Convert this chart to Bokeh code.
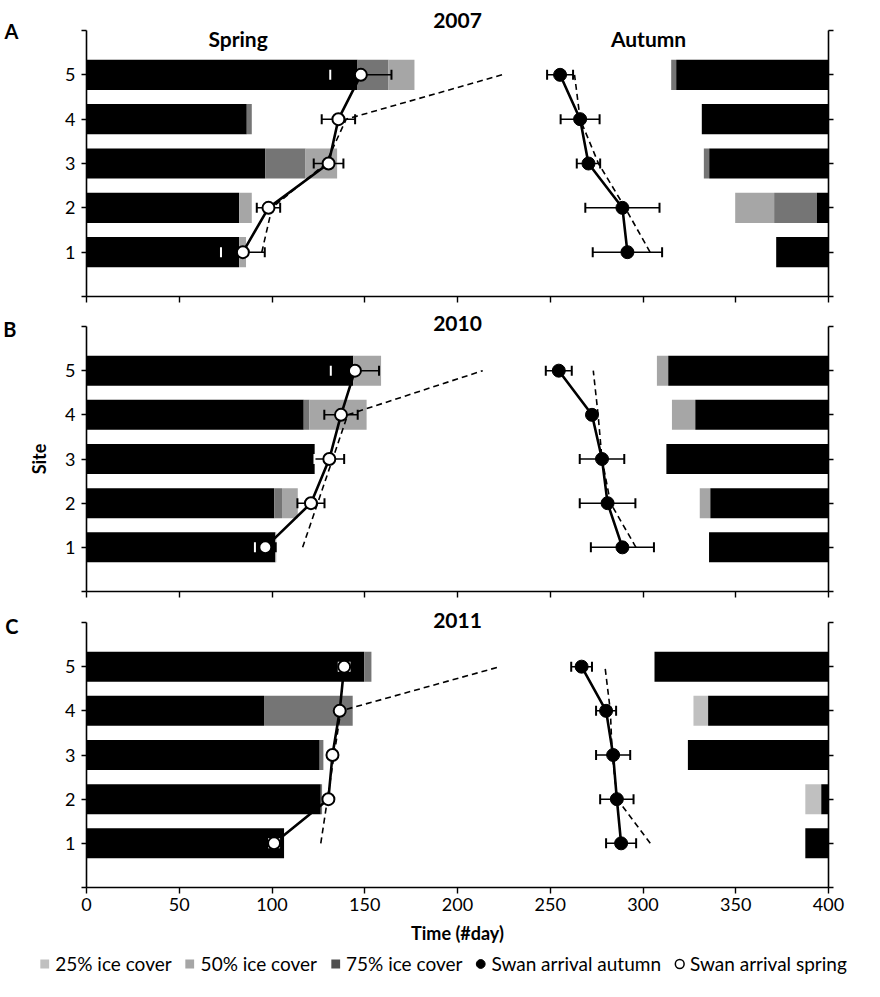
import math
from bokeh.plotting import figure
from bokeh.models import (Range1d, FixedTicker, LinearAxis, Label, Legend,
                          LegendItem)
from bokeh.layouts import column, row
from bokeh.embed import file_html
from bokeh.resources import INLINE

# ---------------- data ----------------
sites = [1, 2, 3, 4, 5]
site_ticks = [0, 1, 2, 3, 4, 5, 6]
day_ticks = [0, 50, 100, 150, 200, 250, 300, 350, 400]
day_end = 400
legend_labels = ["25% ice cover", "50% ice cover", "75% ice cover",
                 "Swan arrival autumn", "Swan arrival spring"]

# 2007 – spring: day at which each ice-cover level ends (100 %, 75 %, 50 %, 25 %)
sp100_2007 = [82.3, 82.3, 96.3, 86.4, 146.1]
sp75_2007 = [82.3, 82.3, 118.1, 89.1, 162.8]
sp50_2007 = [86.0, 89.1, 135.1, 89.1, 176.8]
sp25_2007 = [86.0, 89.1, 135.1, 89.1, 176.8]
# autumn: day at which each ice-cover level starts (25 %, 50 %, 75 %, 100 %)
au25_2007 = [371.8, 349.7, 332.8, 331.7, 315.2]
au50_2007 = [371.8, 349.7, 332.8, 331.7, 315.2]
au75_2007 = [371.8, 370.7, 332.8, 331.7, 315.2]
au100_2007 = [371.8, 393.7, 335.7, 331.7, 317.9]
spr_mean_2007 = [84.3, 98.1, 130.5, 135.8, 147.9]
spr_err_2007 = [11.8, 6.3, 8.0, 9.0, 16.5]
aut_mean_2007 = [291.6, 288.9, 270.6, 266.1, 255.3]
aut_err_2007 = [18.7, 20.0, 6.3, 10.5, 7.0]
spr_pred_2007 = [94.5, 100.0, 129.0, 140.0, 224.0]
aut_pred_2007 = [303.8, 290.4, 276.0, 266.1, 263.1]

# 2010
sp100_2010 = [101.8, 101.2, 123.0, 117.1, 143.8]
sp75_2010 = [101.8, 105.4, 123.0, 120.1, 143.8]
sp50_2010 = [102.3, 113.9, 123.0, 151.0, 158.8]
sp25_2010 = [102.3, 113.9, 123.0, 151.0, 158.8]
au25_2010 = [335.6, 330.6, 312.6, 315.6, 307.5]
au50_2010 = [335.6, 330.6, 312.6, 315.6, 307.5]
au75_2010 = [335.6, 336.3, 312.6, 328.2, 313.6]
au100_2010 = [335.6, 336.3, 312.6, 328.2, 313.6]
spr_mean_2010 = [96.4, 121.0, 130.9, 137.2, 144.7]
spr_err_2010 = [5.6, 7.3, 8.0, 9.0, 13.0]
aut_mean_2010 = [288.9, 280.9, 277.9, 272.5, 254.6]
aut_err_2010 = [17.0, 15.0, 12.0, 1.0, 7.0]
spr_pred_2010 = [116.5, 124.6, 132.7, 140.8, 213.6]
aut_pred_2010 = [296.2, 282.5, 277.9, 275.8, 273.2]

# 2011
sp100_2011 = [106.5, 126.3, 125.7, 95.7, 149.7]
sp75_2011 = [106.5, 127.0, 127.7, 143.5, 153.6]
sp50_2011 = [106.5, 127.0, 127.7, 143.5, 153.6]
sp25_2011 = [106.5, 127.0, 127.7, 143.5, 153.6]
au25_2011 = [387.5, 387.5, 324.2, 327.2, 306.2]
au50_2011 = [387.5, 396.1, 324.2, 335.1, 306.2]
au75_2011 = [387.5, 396.1, 324.2, 335.1, 306.2]
au100_2011 = [387.5, 396.1, 324.2, 335.1, 306.2]
spr_mean_2011 = [101.1, 130.4, 132.6, 136.5, 138.9]
spr_err_2011 = [2.7, 1.0, 1.0, 1.0, 2.9]
aut_mean_2011 = [288.2, 285.9, 283.9, 280.1, 266.9]
aut_err_2011 = [8.1, 9.0, 9.2, 5.4, 5.6]
spr_pred_2011 = [126.3, 129.9, 133.5, 137.1, 222.9]
aut_pred_2011 = [303.9, 286.1, 283.4, 282.4, 279.5]

# ---------------- style ----------------
FONT = "Lato"
C100, C75, C50, C25 = "#000000", "#757575", "#a6a6a6", "#c0c0c0"
BAR_H = 0.68
W = 880
BL, BR = 84, 54

panels = [
    dict(letter="A", year="2007", sp=[sp100_2007, sp75_2007, sp50_2007, sp25_2007],
         au=[au25_2007, au50_2007, au75_2007, au100_2007],
         sm=spr_mean_2007, se=spr_err_2007, am=aut_mean_2007, ae=aut_err_2007,
         spp=spr_pred_2007, app=aut_pred_2007,
         bt=30, bb=8, fh=266, seasons=True, ylab=None, last=False,
         let_pos=6.0, let_so=44, year_so=3),
    dict(letter="B", year="2010", sp=[sp100_2010, sp75_2010, sp50_2010, sp25_2010],
         au=[au25_2010, au50_2010, au75_2010, au100_2010],
         sm=spr_mean_2010, se=spr_err_2010, am=aut_mean_2010, ae=aut_err_2010,
         spp=spr_pred_2010, app=aut_pred_2010,
         bt=22, bb=8, fh=265, seasons=False, ylab="Site", last=False,
         let_pos=5.95, let_so=9, year_so=-4),
    dict(letter="C", year="2011", sp=[sp100_2011, sp75_2011, sp50_2011, sp25_2011],
         au=[au25_2011, au50_2011, au75_2011, au100_2011],
         sm=spr_mean_2011, se=spr_err_2011, am=aut_mean_2011, ae=aut_err_2011,
         spp=spr_pred_2011, app=aut_pred_2011,
         bt=23, bb=61, fh=265, seasons=False, ylab=None, last=True,
         let_pos=5.93, let_so=44, year_so=-5),
]

figs = []
legend_src = None
for P in panels:
    p = figure(frame_width=W - BL - BR, frame_height=P["fh"],
               x_range=Range1d(0, day_end), y_range=Range1d(0, 6),
               output_backend="svg", toolbar_location=None,
               min_border_left=BL, min_border_right=BR,
               min_border_top=P["bt"], min_border_bottom=P["bb"])
    p.outline_line_color = None
    p.grid.visible = False
    p.background_fill_color = "white"

    # x axis
    xa = p.xaxis[0]
    xa.ticker = FixedTicker(ticks=day_ticks)
    xa.axis_line_width = 1.6
    xa.axis_line_color = "black"
    xa.major_tick_line_width = 1.4
    xa.major_tick_out = 6
    xa.major_tick_in = 0
    xa.minor_tick_line_color = None
    xa.major_label_text_font = FONT
    xa.major_label_text_color = "black"
    if P["last"]:
        xa.major_label_text_font_size = "18px"
        xa.major_label_standoff = 4
        xa.axis_label = "Time (#day)"
        xa.axis_label_text_font = FONT
        xa.axis_label_text_color = "black"
        xa.axis_label_text_font_style = "bold"
        xa.axis_label_text_font_size = "18px"
        xa.axis_label_standoff = 8
    else:
        xa.major_label_overrides = {t: "" for t in day_ticks}
        xa.major_label_text_font_size = "1px"
        xa.major_label_standoff = 0

    # left y axis
    ya = p.yaxis[0]
    ya.ticker = FixedTicker(ticks=site_ticks)
    ya.major_label_overrides = {0: "", 6: ""}
    ya.axis_line_width = 1.6
    ya.major_tick_line_width = 1.4
    ya.major_tick_out = 5
    ya.major_tick_in = 0
    ya.minor_tick_line_color = None
    ya.major_label_text_font = FONT
    ya.major_label_text_color = "black"
    ya.major_label_text_font_size = "18px"
    ya.major_label_standoff = 6
    if P["ylab"]:
        ya.axis_label = P["ylab"]
        ya.axis_label_text_font = FONT
        ya.axis_label_text_color = "black"
        ya.axis_label_text_font_style = "bold"
        ya.axis_label_text_font_size = "18px"
        ya.axis_label_standoff = 12

    # panel letter (outer left axis carrying a single label)
    la = LinearAxis(ticker=FixedTicker(ticks=[P["let_pos"]]),
                    major_label_overrides={P["let_pos"]: P["letter"]},
                    axis_line_color=None, major_tick_line_color=None,
                    minor_tick_line_color=None, major_tick_out=0, major_tick_in=0,
                    major_label_standoff=P["let_so"], major_label_text_font=FONT,
                    major_label_text_font_size="20px", major_label_text_font_style="bold",
                    major_label_text_color="black")
    p.add_layout(la, "left")

    # year title (top axis carrying a single label)
    yr = LinearAxis(ticker=FixedTicker(ticks=[200]),
                    major_label_overrides={200: P["year"]},
                    axis_line_color=None, major_tick_line_color=None,
                    minor_tick_line_color=None, major_tick_out=0, major_tick_in=0,
                    major_label_standoff=P["year_so"], major_label_text_font=FONT,
                    major_label_text_font_size="21px", major_label_text_font_style="bold",
                    major_label_text_color="black")
    p.add_layout(yr, "above")

    # right y axis
    ra = LinearAxis(ticker=FixedTicker(ticks=site_ticks), axis_line_width=1.6,
                    major_tick_line_width=1.4, major_tick_out=5, major_tick_in=0,
                    minor_tick_line_color=None,
                    major_label_overrides={t: "" for t in site_ticks},
                    major_label_text_font_size="1px", major_label_standoff=0)
    p.add_layout(ra, "right")

    # spring ice bars (stacked away from day 0)
    s100, s75, s50, s25 = P["sp"]
    p.hbar(y=sites, left=0, right=s100, height=BAR_H, fill_color=C100, line_color=None)
    p.hbar(y=sites, left=s100, right=s75, height=BAR_H, fill_color=C75, line_color=None)
    p.hbar(y=sites, left=s75, right=s50, height=BAR_H, fill_color=C50, line_color=None)
    p.hbar(y=sites, left=s50, right=s25, height=BAR_H, fill_color=C25, line_color=None)
    # autumn ice bars
    a25, a50, a75, a100 = P["au"]
    p.hbar(y=sites, left=a25, right=a50, height=BAR_H, fill_color=C25, line_color=None)
    p.hbar(y=sites, left=a50, right=a75, height=BAR_H, fill_color=C50, line_color=None)
    p.hbar(y=sites, left=a75, right=a100, height=BAR_H, fill_color=C75, line_color=None)
    p.hbar(y=sites, left=a100, right=day_end, height=BAR_H, fill_color=C100, line_color=None)

    # dashed predicted lines
    p.line(P["spp"], sites, line_color="black", line_width=1.6, line_dash="6 4")
    p.line(P["app"], sites, line_color="black", line_width=1.6, line_dash="6 4")
    # observed arrival lines
    p.line(P["sm"], sites, line_color="black", line_width=2.6)
    p.line(P["am"], sites, line_color="black", line_width=2.6)

    # error bars
    for mean, err in ((P["sm"], P["se"]), (P["am"], P["ae"])):
        lo = [m - e for m, e in zip(mean, err)]
        hi = [m + e for m, e in zip(mean, err)]
        p.segment(x0=lo, y0=sites, x1=hi, y1=sites, line_color="black", line_width=1.5)
        cx = lo + hi
        cy = sites + sites
        s_all = s100 + s100
        a_all = a100 + a100
        ccol = ["white" if (x < sb or x > ab) else "black"
                for x, sb, ab in zip(cx, s_all, a_all)]
        p.scatter(x=cx, y=cy, marker="dash", angle=math.pi / 2, size=10,
                  line_color=ccol, line_width=2)

    p.scatter(P["am"], sites, marker="circle", size=13,
              fill_color="black", line_color="black", line_width=1)
    p.scatter(P["sm"], sites, marker="circle", size=12,
              fill_color="white", line_color="black", line_width=2)

    if P["seasons"]:
        p.add_layout(Label(x=81.7, y=5.82, text="Spring", text_font=FONT,
                           text_font_size="21px", text_font_style="bold",
                           text_color="black",
                           text_align="center", text_baseline="middle"))
        p.add_layout(Label(x=303, y=5.82, text="Autumn", text_font=FONT,
                           text_font_size="21px", text_font_style="bold",
                           text_color="black",
                           text_align="center", text_baseline="middle"))
    if P["last"]:
        legend_src = P
    figs.append(p)

# ---------------- legend strip ----------------
lf = figure(frame_width=W, frame_height=30, x_range=Range1d(0, day_end),
            y_range=Range1d(0, 6),
            output_backend="svg", toolbar_location=None,
            x_axis_type=None, y_axis_type=None,
            min_border_left=0, min_border_right=0, min_border_top=0, min_border_bottom=0)
lf.outline_line_color = None
lf.grid.visible = False
P = legend_src
d25 = lf.scatter(P["am"], sites, marker="square", size=12, fill_color=C25,
                 line_color=None, visible=False)
d50 = lf.scatter(P["am"], sites, marker="square", size=12, fill_color=C50,
                 line_color=None, visible=False)
d75 = lf.scatter(P["am"], sites, marker="square", size=12, fill_color="#505050",
                 line_color=None, visible=False)
dau = lf.scatter(P["am"], sites, marker="circle", size=12, fill_color="black",
                 line_color="black", visible=False)
dsp = lf.scatter(P["sm"], sites, marker="circle", size=12, fill_color="white",
                 line_color="black", line_width=1.5, visible=False)
items = [LegendItem(label=legend_labels[0], renderers=[d25]),
         LegendItem(label=legend_labels[1], renderers=[d50]),
         LegendItem(label=legend_labels[2], renderers=[d75]),
         LegendItem(label=legend_labels[3], renderers=[dau]),
         LegendItem(label=legend_labels[4], renderers=[dsp])]
lg = Legend(items=items, orientation="horizontal", location="center",
            glyph_width=22, glyph_height=22, label_standoff=0, spacing=7,
            padding=0, margin=0, border_line_color=None,
            background_fill_alpha=0, label_text_font=FONT,
            label_text_color="black", label_text_font_size="19px")
lf.add_layout(lg)

layout = column(column(*figs, spacing=0), row(lf), spacing=0)
open("out.html", "w").write(file_html(layout, INLINE))
